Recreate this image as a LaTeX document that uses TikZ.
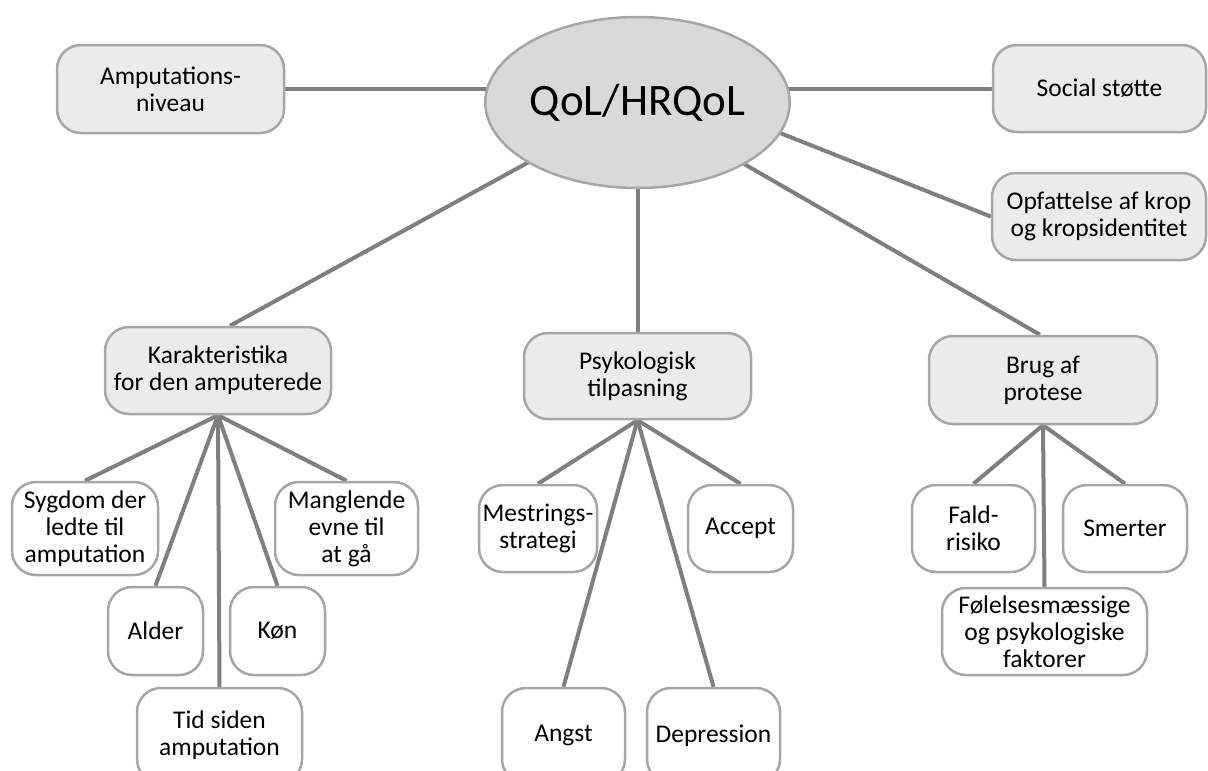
\documentclass[tikz,border=0pt]{standalone}
\usepackage{fontspec}
\setmainfont{Carlito}
\usetikzlibrary{shapes.geometric,backgrounds,calc}
\definecolor{conncol}{HTML}{7F7F7F}
\definecolor{bordcol}{HTML}{A6A6A6}
\definecolor{boxfill}{HTML}{EBEBEB}
\definecolor{ellfill}{HTML}{D9D9D9}
\begin{document}
\begin{tikzpicture}[x=1pt,y=-1pt,
  box/.style={draw=bordcol, line width=2.5pt, rounded corners=24pt, align=center,
    inner sep=0pt, font=\fontsize{25.5}{27}\selectfont},
  mainbox/.style={box, fill=boxfill},
  leaf/.style={box, fill=white},
  link/.style={draw=conncol, line width=4pt}]
\useasboundingbox (0,0) rectangle (1208,771);

% centre
\node[ellipse, draw=bordcol, fill=ellfill, line width=2.5pt, minimum width=265pt,
  minimum height=171pt, inner sep=0pt, font=\fontsize{45}{48}\selectfont]
  (q) at (637.5,102.5) {\raisebox{3pt}{QoL/HRQoL}};

% top level
\node[mainbox, minimum width=227pt, minimum height=88pt] (amp) at (170.5,89) {Amputations-\\niveau};
\node[mainbox, minimum width=213pt, minimum height=87pt] (soc) at (1099.5,88.5) {Social støtte};
\node[mainbox, minimum width=214pt, minimum height=87pt] (opf) at (1099,216.5) {Opfattelse af krop\\og kropsidentitet};
\node[mainbox, minimum width=226pt, minimum height=87pt] (kar) at (218,370.5) {Karakteristika\\for den amputerede};
\node[mainbox, minimum width=227pt, minimum height=86pt] (psy) at (637.5,376) {Psykologisk\\tilpasning};
\node[mainbox, minimum width=228pt, minimum height=88pt] (bru) at (1043,380) {Brug af\\protese};

% leaves: Karakteristika
\node[leaf, minimum width=146pt, minimum height=93pt] (syg) at (85,528.5) {Sygdom der\\ledte til\\amputation};
\node[leaf, minimum width=95pt, minimum height=88pt] (ald) at (155.5,631) {Alder};
\node[leaf, minimum width=95pt, minimum height=88pt] (kon) at (277.5,631) {Køn};
\node[leaf, minimum width=143pt, minimum height=93pt] (man) at (346.5,528.5) {Manglende\\evne til\\at gå};
\node[leaf, minimum width=165pt, minimum height=95pt] (tid) at (219.5,735.5) {Tid siden\\amputation};

% leaves: Psykologisk
\node[leaf, minimum width=118pt, minimum height=87pt] (mes) at (538,528.5) {Mestrings-\\strategi};
\node[leaf, minimum width=105pt, minimum height=87pt] (acc) at (740.5,528.5) {Accept};
\node[leaf, minimum width=123pt, minimum height=95pt] (ang) at (563.5,735.5) {Angst};
\node[leaf, minimum width=133pt, minimum height=95pt] (dep) at (713.5,735.5) {Depression};

% leaves: Brug af protese
\node[leaf, minimum width=123pt, minimum height=87pt] (fal) at (973.5,528.5) {Fald-\\risiko};
\node[leaf, minimum width=124pt, minimum height=87pt] (sme) at (1125,528.5) {Smerter};
\node[leaf, minimum width=205pt, minimum height=87pt] (fol) at (1044.5,631.5) {Følelsesmæssige\\og psykologiske\\faktorer};

\begin{scope}[on background layer]
  \draw[link] (amp.east) -- (amp.east -| q.center);
  \draw[link] (soc.west) -- (soc.west -| q.center);
  \draw[link] ($(q.center)+(0,-26)$) -- (opf.west);
  \draw[link] (q.center) -- ($(kar.north)+(12,0)$);
  \draw[link] (q.center) -- (psy.north);
  \draw[link] (q.center) -- ($(bru.north)+(-3,0)$);
  \foreach \c in {syg,ald,tid,kon,man} \draw[link] (kar.south) -- (\c.north);
  \foreach \c in {mes,acc,ang,dep} \draw[link] (psy.south) -- (\c.north);
  \foreach \c in {fal,sme,fol} \draw[link] (bru.south) -- (\c.north);
\end{scope}
\end{tikzpicture}
\end{document}
